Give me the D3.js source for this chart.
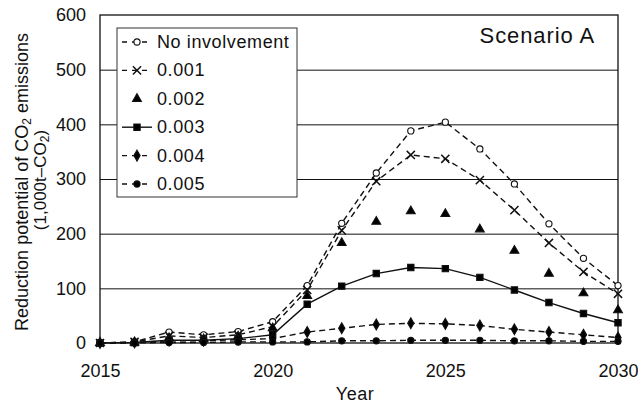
<!DOCTYPE html>
<html><head><meta charset="utf-8">
<script src="https://cdn.jsdelivr.net/npm/d3@7"></script>
<style>
html,body{margin:0;padding:0;background:#fff;}
svg{display:block;font-family:"Liberation Sans",Arial,Helvetica,sans-serif;}
</style></head>
<body>
<svg id="chart" width="638" height="404"></svg>
<script>
const years = [2015,2016,2017,2018,2019,2020,2021,2022,2023,2024,2025,2026,2027,2028,2029,2030];
const noInvolvement = [0, 2, 20, 15, 21, 39, 105, 219, 311, 388, 404, 355, 291, 218, 155, 105];
const s001 = [0, 2, 13, 10, 15, 30, 97, 206, 296, 344, 337, 298, 243, 183, 130, 90];
const s002 = [0, 1, 9, 7, 12, 27, 86, 183, 222, 241, 236, 208, 169, 127, 91, 60];
const s003 = [0, 1, 5, 5, 8, 15, 71, 104, 127, 138, 136, 120, 97, 74, 54, 37];
const s004 = [0, 1, 4, 4, 6, 8, 20, 27, 34, 36, 35, 32, 25, 20, 15, 10];
const s005 = [0, 0, 1, 1, 2, 2, 2, 4, 4, 5, 5, 5, 4, 4, 3, 3];
const seriesNames = ["No involvement","0.001","0.002","0.003","0.004","0.005"];
const xTicks = [2015,2020,2025,2030];
const yTicks = [0,100,200,300,400,500,600];
const gridTicks = [100,200,300,400,500];

const seriesValues = [noInvolvement, s001, s002, s003, s004, s005];
const styles = [
  {line:"dash", sym:d3.symbolCircle, size:30, fill:"#fff"},
  {line:"dash", sym:d3.symbolTimes, size:45, fill:"none"},
  {line:"none", sym:d3.symbolTriangle, size:34, fill:"#000"},
  {line:"solid", sym:d3.symbolSquare, size:40, fill:"#000"},
  {line:"dash", sym:d3.symbolDiamond, size:34, fill:"#000"},
  {line:"dash", sym:d3.symbolCircle, size:30, fill:"#000"}
];

const svg = d3.select("#chart");
const L=100, R=618, T=15, B=343;
const x = d3.scaleLinear().domain([2015,2030]).range([L,R]);
const y = d3.scaleLinear().domain([0,600]).range([B,T]);

// gridlines
svg.append("g").attr("transform",`translate(${L},0)`)
  .call(d3.axisLeft(y).tickValues(gridTicks).tickSize(-(R-L)).tickFormat(""))
  .call(g=>g.select(".domain").remove())
  .call(g=>g.selectAll("line").attr("stroke","#111").attr("stroke-width",1));

// frame
svg.append("rect").attr("x",L).attr("y",T).attr("width",R-L).attr("height",B-T)
  .attr("fill","none").attr("stroke","#111").attr("stroke-width",1.3);

// axes
const fs = 18;
svg.append("g").attr("transform",`translate(0,${B})`)
  .call(d3.axisBottom(x).tickValues(xTicks).tickSize(0).tickPadding(21).tickFormat(d3.format("d")))
  .call(g=>g.select(".domain").remove())
  .call(g=>g.selectAll("text").attr("font-size",fs).attr("fill","#111").attr("font-family","'Liberation Sans',Arial,sans-serif"));
svg.append("g").attr("transform",`translate(${L},0)`)
  .call(d3.axisLeft(y).tickValues(yTicks).tickSize(0).tickPadding(14))
  .call(g=>g.select(".domain").remove())
  .call(g=>g.selectAll("text").attr("font-size",fs).attr("fill","#111").attr("font-family","'Liberation Sans',Arial,sans-serif"));

// series
seriesValues.forEach((vals,i)=>{
  const st = styles[i];
  const data = years.map((yr,j)=>({yr, v:vals[j]}));
  if(st.line!=="none"){
    svg.append("path").datum(data)
      .attr("fill","none").attr("stroke","#111").attr("stroke-width",1.4)
      .attr("stroke-dasharray", st.line==="dash" ? "6,4" : null)
      .attr("d", d3.line().x(d=>x(d.yr)).y(d=>y(d.v)));
  }
  svg.append("g").selectAll("path").data(data).join("path")
    .attr("transform",d=>`translate(${x(d.yr)},${y(d.v)})`)
    .attr("d", d3.symbol().type(st.sym).size(st.size))
    .attr("fill", st.fill)
    .attr("stroke","#111").attr("stroke-width", st.sym===d3.symbolTimes?1.5:1.1);
});

// legend
const lg = svg.append("g");
lg.append("rect").attr("x",117).attr("y",28).attr("width",180).attr("height",169)
  .attr("fill","#fff").attr("stroke","#333").attr("stroke-width",1);
seriesNames.forEach((name,i)=>{
  const st = styles[i];
  const base = 48 + i*28.4;
  const cy = base - 6;
  if(st.line!=="none"){
    lg.append("line").attr("x1",122).attr("x2",152).attr("y1",cy).attr("y2",cy)
      .attr("stroke","#111").attr("stroke-width",1.4)
      .attr("stroke-dasharray", st.line==="dash" ? "5,5" : null);
  }
  lg.append("path").attr("transform",`translate(137,${cy})`)
    .attr("d", d3.symbol().type(st.sym).size(st.size))
    .attr("fill", st.fill).attr("stroke","#111").attr("stroke-width", st.sym===d3.symbolTimes?1.5:1.1);
  lg.append("text").attr("x",157).attr("y",base).attr("font-size",fs)
    .attr("letter-spacing",0.6).attr("fill","#111").text(name);
});

// scenario label
svg.append("text").attr("x",595).attr("y",43).attr("text-anchor","end")
  .attr("font-size",22).attr("letter-spacing",0.9).attr("fill","#111").text("Scenario A");

// axis titles
svg.append("text").attr("x",355).attr("y",400).attr("text-anchor","middle")
  .attr("font-size",fs).attr("letter-spacing",0.5).attr("fill","#111").text("Year");
const yt = svg.append("text").attr("transform","translate(28,182) rotate(-90)")
  .attr("text-anchor","middle").attr("font-size",fs).attr("fill","#111");
yt.append("tspan").text("Reduction potential of CO");
yt.append("tspan").attr("font-size",12).attr("dy",3).text("2");
yt.append("tspan").attr("dy",-3).text(" emissions");
const yt2 = svg.append("text").attr("transform","translate(46,180) rotate(-90)")
  .attr("text-anchor","middle").attr("font-size",17).attr("fill","#111");
yt2.append("tspan").text("(1,000t\u2013CO");
yt2.append("tspan").attr("font-size",12).attr("dy",3).text("2");
yt2.append("tspan").attr("dy",-3).text(")");
</script>
</body></html>
